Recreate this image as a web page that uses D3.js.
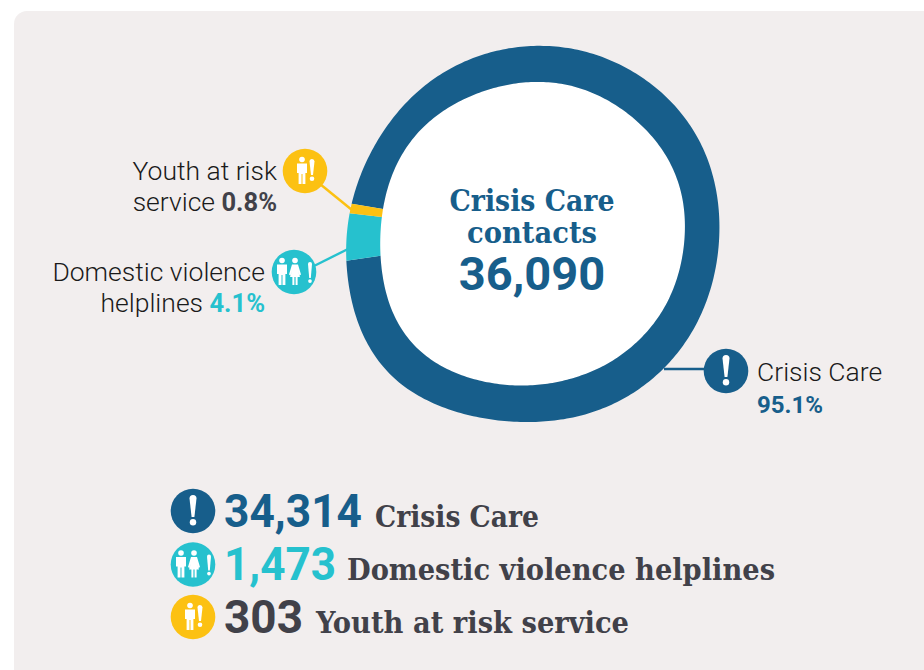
<!DOCTYPE html>
<html lang="en">
<meta charset="utf-8">
<script src="https://d3js.org/d3.v7.min.js"></script>
<style>
  html, body { margin: 0; padding: 0; background: #fff; overflow: hidden; }
  .slab { font-family: "DejaVu Serif Condensed", "DejaVu Serif", serif; font-weight: 700; font-stretch: condensed; }
  .sans { font-family: Roboto, sans-serif; }
</style>
<body>
<div id="my_dataviz"></div>
<script>
var services = ["Crisis Care", "Domestic violence helplines", "Youth at risk service"];
var contacts = [34314, 1473, 303];
var contactLabels = ["34,314", "1,473", "303"];
var shares = ["95.1%", "4.1%", "0.8%"];
var total = "36,090";

// the ring is hand drawn, not round: radius read every 15 degrees clockwise from the top
var outerProfile = [188,190,191,192,192,189.5,187,186.5,187.5,188.2,188.5,188,187.5,190,196,201,197,189.5,185,181.5,180,181.5,184,186];
var innerProfile = [152,153.5,153.5,154,155.5,155,152.5,151.5,151.5,150.5,150,149.5,151,154,159,163,160.5,154.5,151,151,152.5,152.7,151,150.5];

var blue = "#175e8b", teal = "#26c1ce", yellow = "#fcc112", dark = "#414149", ink = "#1a1a1a";
var colors = [blue, teal, yellow];

var width = 924, height = 670, cx = 532, cy = 234;

var svg = d3.select("#my_dataviz")
  .append("svg")
    .attr("width", width)
    .attr("height", height)
    .style("display", "block");

svg.append("rect")
    .attr("x", 14).attr("y", 11)
    .attr("width", 940).attr("height", 690)
    .attr("rx", 13)
    .attr("fill", "#f2eeee");

var tau = Math.PI * 2;
var outerAt = d3.interpolateBasisClosed(outerProfile);
var innerAt = d3.interpolateBasisClosed(innerProfile);
function wrap(a) { return ((a / tau) % 1 + 1) % 1; }

var pie = d3.pie().sort(null).startAngle(279.5 / 360 * tau).endAngle(279.5 / 360 * tau + tau);

var ringArea = d3.areaRadial()
    .angle(function(a) { return a; })
    .innerRadius(function(a) { return innerAt(wrap(a)); })
    .outerRadius(function(a) { return outerAt(wrap(a)); });

var ring = svg.append("g").attr("transform", "translate(" + cx + "," + cy + ")");

ring.append("path")
    .attr("d", d3.lineRadial()
      .angle(function(a) { return a; })
      .radius(function(a) { return innerAt(wrap(a)); })
      .curve(d3.curveLinearClosed)(d3.range(0, tau, tau / 360)))
    .attr("fill", "#fff");

ring.selectAll("path.slice")
  .data(pie(contacts))
  .enter()
  .append("path")
    .attr("class", "slice")
    .attr("d", function(d) {
      var n = Math.max(2, Math.ceil((d.endAngle - d.startAngle) * 60));
      var step = (d.endAngle - d.startAngle) / n;
      return ringArea(d3.range(n + 1).map(function(i) { return d.startAngle + i * step; }));
    })
    .attr("fill", function(d, i) { return colors[i]; });

// leader lines
var leaders = [[664, 369, 706, 369], [348, 249, 314, 266], [352, 210, 320, 184]];
svg.selectAll("line.leader")
  .data(leaders)
  .enter()
  .append("line")
    .attr("class", "leader")
    .attr("x1", function(d) { return d[0]; })
    .attr("y1", function(d) { return d[1]; })
    .attr("x2", function(d) { return d[2]; })
    .attr("y2", function(d) { return d[3]; })
    .attr("stroke", function(d, i) { return colors[i]; })
    .attr("stroke-width", 2.4);

function bang(g, x, top, bottom, w) {
  var dotR = w * 0.46;
  g.append("path")
      .attr("d", "M" + (x - w / 2) + "," + (top + w / 2)
        + "A" + (w / 2) + "," + (w / 2) + " 0 0 1 " + (x + w / 2) + "," + (top + w / 2)
        + "L" + (x + w * 0.2) + "," + bottom + "H" + (x - w * 0.2) + "Z")
      .attr("fill", "#fff");
  g.append("circle").attr("cx", x).attr("cy", bottom + dotR + w * 0.3).attr("r", dotR).attr("fill", "#fff");
}

function man(g, x) {
  g.append("circle").attr("cx", x).attr("cy", -11.5).attr("r", 2.8).attr("fill", "#fff");
  g.append("path")
      .attr("transform", "translate(" + x + ",0)")
      .attr("d", "M-5,-7.5H5V2H3.4V13H0.5V3H-0.5V13H-3.4V2H-5Z")
      .attr("fill", "#fff");
}

function woman(g, x) {
  g.append("circle").attr("cx", x).attr("cy", -11.5).attr("r", 2.8).attr("fill", "#fff");
  g.append("path")
      .attr("transform", "translate(" + x + ",0)")
      .attr("d", "M-3,-7.5H3L6,2.5L4.6,3.4L3,-1L5,5H2.6V13H0.6V5H-0.6V13H-2.6V5H-5L-3,-1L-4.6,3.4L-6,2.5Z")
      .attr("fill", "#fff");
}

var glyphs = [
  function(g) { bang(g, 0, -16, 6, 7); },
  function(g) { man(g, -12); woman(g, 1); bang(g, 16, -10, 6, 4); },
  function(g) { man(g, -3); bang(g, 7, -12, 4, 5); }
];

function icon(x, y, i) {
  var g = svg.append("g").attr("transform", "translate(" + x + "," + y + ")");
  g.append("circle").attr("r", 22.3).attr("fill", colors[i]);
  glyphs[i](g);
}

icon(726, 371, 0);
icon(294, 272, 1);
icon(305, 171, 2);
icon(193, 511, 0);
icon(193, 564.5, 1);
icon(193, 617, 2);

function label(x, y, anchor, parts) {
  var t = svg.append("text")
      .attr("class", "sans")
      .attr("x", x).attr("y", y)
      .attr("text-anchor", anchor)
      .attr("font-size", 26.5)
      .attr("font-weight", 300)
      .attr("fill", ink);
  parts.forEach(function(p) {
    var s = t.append("tspan").text(p[0]);
    if (p[1]) s.attr("font-weight", 700).attr("font-size", p[2]).attr("fill", p[1]);
  });
}

label(277, 180, "end", [["Youth at risk"]]);
label(277, 211, "end", [["service "], [shares[2], dark, 25.5]]);
label(265, 281, "end", [["Domestic violence"]]);
label(265, 312, "end", [["helplines "], [shares[1], teal, 25.5]]);
label(757, 381, "start", [[services[0]]]);
label(757, 413, "start", [[shares[0], blue, 24]]);

// centre title
var centreLines = ["Crisis Care", "contacts"];
svg.selectAll("text.centre")
  .data(centreLines)
  .enter()
  .append("text")
    .attr("class", "centre slab")
    .attr("x", cx)
    .attr("y", function(d, i) { return 211 + i * 32; })
    .attr("text-anchor", "middle")
    .attr("font-size", 30)
    .attr("textLength", function(d, i) { return [165, 130][i]; })
    .attr("lengthAdjust", "spacingAndGlyphs")
    .attr("fill", blue)
    .text(function(d) { return d; });

svg.append("text")
    .attr("class", "sans")
    .attr("x", cx).attr("y", 290)
    .attr("text-anchor", "middle")
    .attr("font-size", 47)
    .attr("font-weight", 700)
    .attr("fill", blue)
    .text(total);

// totals list
var rowBase = [527, 580, 633];
var numberFill = [blue, teal, dark];
var numberWidth = [138, 112, 79];
var nameX = [375, 347, 316];
var nameWidth = [164, 428, 313];

svg.selectAll("text.count")
  .data(contactLabels)
  .enter()
  .append("text")
    .attr("class", "count sans")
    .attr("x", 224)
    .attr("y", function(d, i) { return rowBase[i]; })
    .attr("font-size", 47)
    .attr("font-weight", 700)
    .attr("textLength", function(d, i) { return numberWidth[i]; })
    .attr("lengthAdjust", "spacingAndGlyphs")
    .attr("fill", function(d, i) { return numberFill[i]; })
    .text(function(d) { return d; });

svg.selectAll("text.name")
  .data(services)
  .enter()
  .append("text")
    .attr("class", "name slab")
    .attr("x", function(d, i) { return nameX[i]; })
    .attr("y", function(d, i) { return rowBase[i]; })
    .attr("font-size", 30)
    .attr("textLength", function(d, i) { return nameWidth[i]; })
    .attr("lengthAdjust", "spacingAndGlyphs")
    .attr("fill", dark)
    .text(function(d) { return d; });
</script>
</body>
</html>
